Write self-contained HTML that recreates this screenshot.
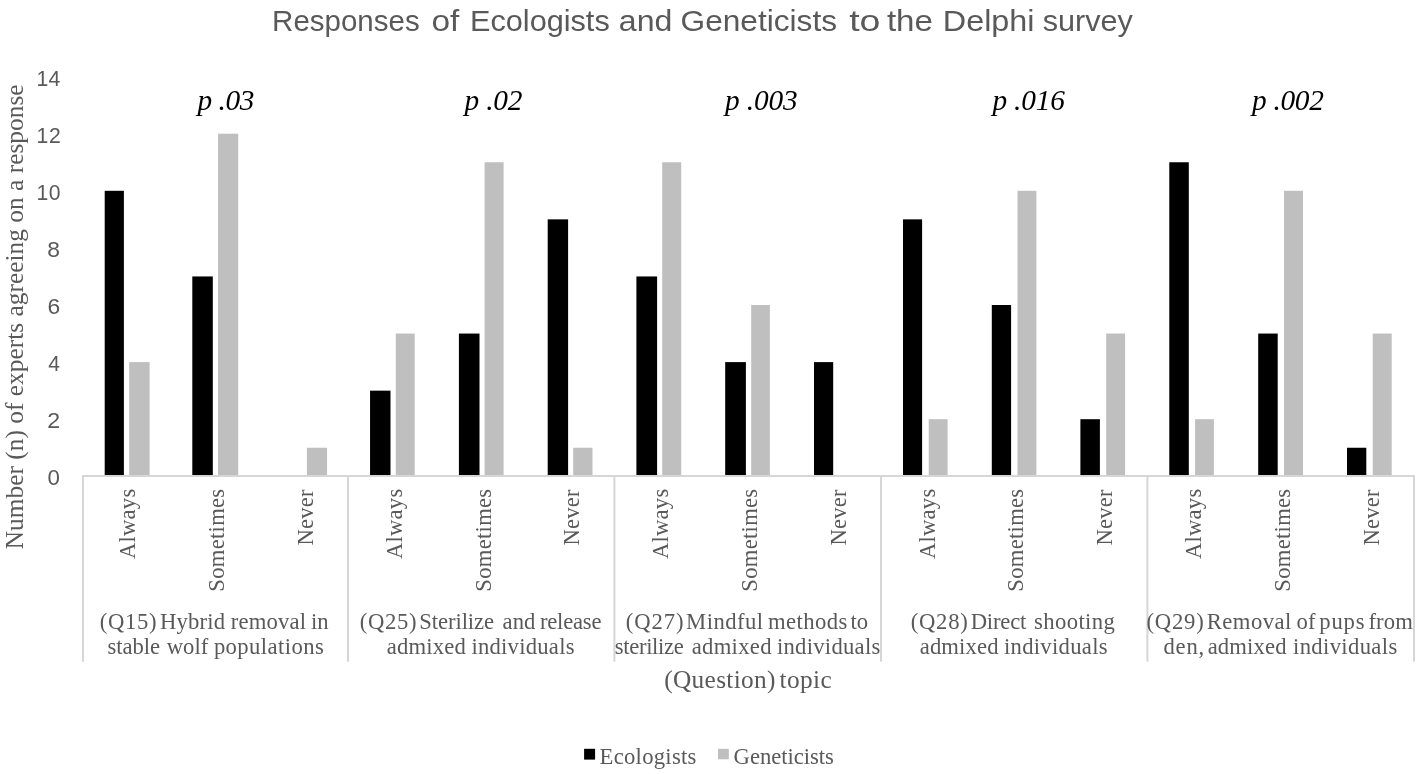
<!DOCTYPE html>
<html lang="en">
<head>
<meta charset="utf-8">
<title>Responses of Ecologists and Geneticists to the Delphi survey</title>
<style>
html,body{margin:0;padding:0;background:#fff;}
body{width:1426px;height:774px;overflow:hidden;}
svg{display:block;}
</style>
</head>
<body>
<svg width="1426" height="774" viewBox="0 0 1426 774">
<rect id="bg" width="1426" height="774" fill="#fff"/>
<g id="bars">
<rect x="104.70" y="190.8" width="19.20" height="284.20" fill="#000"/>
<rect x="129.20" y="362.1" width="20.40" height="112.90" fill="#bfbfbf"/>
<rect x="192.30" y="276.45" width="20.50" height="198.55" fill="#000"/>
<rect x="218.05" y="133.7" width="20.15" height="341.30" fill="#bfbfbf"/>
<rect x="306.90" y="447.75" width="20.15" height="27.25" fill="#bfbfbf"/>
<rect x="370.05" y="390.65" width="20.45" height="84.35" fill="#000"/>
<rect x="395.80" y="333.55" width="18.90" height="141.45" fill="#bfbfbf"/>
<rect x="458.90" y="333.55" width="20.60" height="141.45" fill="#000"/>
<rect x="484.60" y="162.25" width="19.00" height="312.75" fill="#bfbfbf"/>
<rect x="547.70" y="219.35" width="20.40" height="255.65" fill="#000"/>
<rect x="573.20" y="447.75" width="19.30" height="27.25" fill="#bfbfbf"/>
<rect x="636.40" y="276.45" width="20.70" height="198.55" fill="#000"/>
<rect x="662.20" y="162.25" width="19.00" height="312.75" fill="#bfbfbf"/>
<rect x="725.20" y="362.1" width="20.70" height="112.90" fill="#000"/>
<rect x="751.20" y="305.0" width="18.70" height="170.00" fill="#bfbfbf"/>
<rect x="814.00" y="362.1" width="19.20" height="112.90" fill="#000"/>
<rect x="903.00" y="219.35" width="19.10" height="255.65" fill="#000"/>
<rect x="928.70" y="419.2" width="18.90" height="55.80" fill="#bfbfbf"/>
<rect x="991.80" y="305.0" width="19.30" height="170.00" fill="#000"/>
<rect x="1017.50" y="190.8" width="18.90" height="284.20" fill="#bfbfbf"/>
<rect x="1080.40" y="419.2" width="19.50" height="55.80" fill="#000"/>
<rect x="1106.20" y="333.55" width="18.90" height="141.45" fill="#bfbfbf"/>
<rect x="1169.30" y="162.25" width="19.50" height="312.75" fill="#000"/>
<rect x="1195.10" y="419.2" width="18.80" height="55.80" fill="#bfbfbf"/>
<rect x="1258.20" y="333.55" width="19.50" height="141.45" fill="#000"/>
<rect x="1284.00" y="190.8" width="19.00" height="284.20" fill="#bfbfbf"/>
<rect x="1347.00" y="447.75" width="19.30" height="27.25" fill="#000"/>
<rect x="1372.70" y="333.55" width="19.00" height="141.45" fill="#bfbfbf"/>
</g>
<g id="axes" fill="#d6d6d6">
<rect x="82.0" y="475" width="1333.0" height="2"/>
<rect x="82.0" y="476" width="2" height="185.7"/>
<rect x="347.0" y="476" width="2" height="185.7"/>
<rect x="613.4" y="476" width="2" height="185.7"/>
<rect x="880.0" y="476" width="2" height="185.7"/>
<rect x="1146.4" y="476" width="2" height="185.7"/>
<rect x="1413.0" y="476" width="2" height="185.7"/>
</g>
<g id="legendmarks"><rect x="584.1" y="748.8" width="11" height="10.8" fill="#000"/><rect x="718.0" y="748.8" width="10.8" height="10.5" fill="#bfbfbf"/></g>
<g id="texts">
<text id="t0" font-family="'Liberation Sans',sans-serif" font-size="29.6" fill="#595959" textLength="147.55" lengthAdjust="spacingAndGlyphs" xml:space="preserve" x="272.11" y="31.10">Responses</text>
<text id="t1" font-family="'Liberation Sans',sans-serif" font-size="29.6" fill="#595959" textLength="27.88" lengthAdjust="spacingAndGlyphs" xml:space="preserve" x="431.42" y="31.10">of</text>
<text id="t2" font-family="'Liberation Sans',sans-serif" font-size="29.6" fill="#595959" textLength="139.73" lengthAdjust="spacingAndGlyphs" xml:space="preserve" x="470.01" y="31.10">Ecologists</text>
<text id="t3" font-family="'Liberation Sans',sans-serif" font-size="29.6" fill="#595959" textLength="53.56" lengthAdjust="spacingAndGlyphs" xml:space="preserve" x="618.87" y="31.10">and</text>
<text id="t4" font-family="'Liberation Sans',sans-serif" font-size="29.6" fill="#595959" textLength="156.54" lengthAdjust="spacingAndGlyphs" xml:space="preserve" x="680.54" y="31.10">Geneticists</text>
<text id="t5" font-family="'Liberation Sans',sans-serif" font-size="29.6" fill="#595959" textLength="31.22" lengthAdjust="spacingAndGlyphs" xml:space="preserve" x="849.15" y="31.10">to</text>
<text id="t6" font-family="'Liberation Sans',sans-serif" font-size="29.6" fill="#595959" textLength="46.03" lengthAdjust="spacingAndGlyphs" xml:space="preserve" x="886.93" y="31.10">the</text>
<text id="t7" font-family="'Liberation Sans',sans-serif" font-size="29.6" fill="#595959" textLength="91.66" lengthAdjust="spacingAndGlyphs" xml:space="preserve" x="942.82" y="31.10">Delphi</text>
<text id="t8" font-family="'Liberation Sans',sans-serif" font-size="29.6" fill="#595959" textLength="90.25" lengthAdjust="spacingAndGlyphs" xml:space="preserve" x="1042.69" y="31.10">survey</text>
<text id="p0" font-family="'Liberation Serif',serif" font-size="29.33" fill="#000" font-style="italic" textLength="57.02" lengthAdjust="spacing" xml:space="preserve" x="197.39" y="109.90">p .03</text>
<text id="p1" font-family="'Liberation Serif',serif" font-size="29.33" fill="#000" font-style="italic" textLength="57.79" lengthAdjust="spacing" xml:space="preserve" x="464.62" y="109.90">p .02</text>
<text id="p2" font-family="'Liberation Serif',serif" font-size="29.33" fill="#000" font-style="italic" textLength="72.65" lengthAdjust="spacing" xml:space="preserve" x="725.07" y="109.90">p .003</text>
<text id="p3" font-family="'Liberation Serif',serif" font-size="29.33" fill="#000" font-style="italic" textLength="72.33" lengthAdjust="spacing" xml:space="preserve" x="992.48" y="109.90">p .016</text>
<text id="p4" font-family="'Liberation Serif',serif" font-size="29.33" fill="#000" font-style="italic" textLength="71.78" lengthAdjust="spacing" xml:space="preserve" x="1252.07" y="109.90">p .002</text>
<text id="y0" font-family="'Liberation Sans',sans-serif" font-size="21.2" fill="#595959" textLength="12.41" lengthAdjust="spacingAndGlyphs" xml:space="preserve" x="47.61" y="485.40">0</text>
<text id="y2" font-family="'Liberation Sans',sans-serif" font-size="21.2" fill="#595959" textLength="12.90" lengthAdjust="spacingAndGlyphs" xml:space="preserve" x="47.33" y="428.30">2</text>
<text id="y4" font-family="'Liberation Sans',sans-serif" font-size="21.2" fill="#595959" textLength="11.68" lengthAdjust="spacingAndGlyphs" xml:space="preserve" x="48.25" y="371.20">4</text>
<text id="y6" font-family="'Liberation Sans',sans-serif" font-size="21.2" fill="#595959" textLength="12.68" lengthAdjust="spacingAndGlyphs" xml:space="preserve" x="47.59" y="314.10">6</text>
<text id="y8" font-family="'Liberation Sans',sans-serif" font-size="21.2" fill="#595959" textLength="12.74" lengthAdjust="spacingAndGlyphs" xml:space="preserve" x="47.28" y="257.00">8</text>
<text id="y10" font-family="'Liberation Sans',sans-serif" font-size="21.2" fill="#595959" textLength="23.92" lengthAdjust="spacing" xml:space="preserve" x="36.54" y="199.90">10</text>
<text id="y12" font-family="'Liberation Sans',sans-serif" font-size="21.2" fill="#595959" textLength="24.19" lengthAdjust="spacing" xml:space="preserve" x="36.54" y="142.80">12</text>
<text id="y14" font-family="'Liberation Sans',sans-serif" font-size="21.2" fill="#595959" textLength="23.74" lengthAdjust="spacing" xml:space="preserve" x="36.54" y="85.70">14</text>
<text id="c0" font-family="'Liberation Serif',serif" font-size="22.67" fill="#595959" textLength="70.36" lengthAdjust="spacing" xml:space="preserve" transform="translate(135.30 559.11) rotate(-90)">Always</text>
<text id="c1" font-family="'Liberation Serif',serif" font-size="22.67" fill="#595959" textLength="102.86" lengthAdjust="spacing" xml:space="preserve" transform="translate(224.11 591.67) rotate(-90)">Sometimes</text>
<text id="c2" font-family="'Liberation Serif',serif" font-size="22.67" fill="#595959" textLength="56.05" lengthAdjust="spacing" xml:space="preserve" transform="translate(312.92 545.46) rotate(-90)">Never</text>
<text id="c3" font-family="'Liberation Serif',serif" font-size="22.67" fill="#595959" textLength="70.36" lengthAdjust="spacing" xml:space="preserve" transform="translate(401.73 559.11) rotate(-90)">Always</text>
<text id="c4" font-family="'Liberation Serif',serif" font-size="22.67" fill="#595959" textLength="102.86" lengthAdjust="spacing" xml:space="preserve" transform="translate(490.54 591.67) rotate(-90)">Sometimes</text>
<text id="c5" font-family="'Liberation Serif',serif" font-size="22.67" fill="#595959" textLength="56.05" lengthAdjust="spacing" xml:space="preserve" transform="translate(579.35 545.46) rotate(-90)">Never</text>
<text id="c6" font-family="'Liberation Serif',serif" font-size="22.67" fill="#595959" textLength="70.36" lengthAdjust="spacing" xml:space="preserve" transform="translate(668.16 559.11) rotate(-90)">Always</text>
<text id="c7" font-family="'Liberation Serif',serif" font-size="22.67" fill="#595959" textLength="102.86" lengthAdjust="spacing" xml:space="preserve" transform="translate(756.97 591.67) rotate(-90)">Sometimes</text>
<text id="c8" font-family="'Liberation Serif',serif" font-size="22.67" fill="#595959" textLength="56.05" lengthAdjust="spacing" xml:space="preserve" transform="translate(845.78 545.46) rotate(-90)">Never</text>
<text id="c9" font-family="'Liberation Serif',serif" font-size="22.67" fill="#595959" textLength="70.36" lengthAdjust="spacing" xml:space="preserve" transform="translate(934.59 559.11) rotate(-90)">Always</text>
<text id="c10" font-family="'Liberation Serif',serif" font-size="22.67" fill="#595959" textLength="102.86" lengthAdjust="spacing" xml:space="preserve" transform="translate(1023.40 591.67) rotate(-90)">Sometimes</text>
<text id="c11" font-family="'Liberation Serif',serif" font-size="22.67" fill="#595959" textLength="56.05" lengthAdjust="spacing" xml:space="preserve" transform="translate(1112.21 545.46) rotate(-90)">Never</text>
<text id="c12" font-family="'Liberation Serif',serif" font-size="22.67" fill="#595959" textLength="70.36" lengthAdjust="spacing" xml:space="preserve" transform="translate(1201.02 559.11) rotate(-90)">Always</text>
<text id="c13" font-family="'Liberation Serif',serif" font-size="22.67" fill="#595959" textLength="102.86" lengthAdjust="spacing" xml:space="preserve" transform="translate(1289.83 591.67) rotate(-90)">Sometimes</text>
<text id="c14" font-family="'Liberation Serif',serif" font-size="22.67" fill="#595959" textLength="56.05" lengthAdjust="spacing" xml:space="preserve" transform="translate(1378.64 545.46) rotate(-90)">Never</text>
<text id="g0_0_0" font-family="'Liberation Serif',serif" font-size="22.67" fill="#595959" textLength="56.88" lengthAdjust="spacing" xml:space="preserve" x="99.75" y="628.50">(Q15)</text>
<text id="g0_0_1" font-family="'Liberation Serif',serif" font-size="22.67" fill="#595959" textLength="65.19" lengthAdjust="spacing" xml:space="preserve" x="159.90" y="628.50">Hybrid</text>
<text id="g0_0_2" font-family="'Liberation Serif',serif" font-size="22.67" fill="#595959" textLength="75.24" lengthAdjust="spacing" xml:space="preserve" x="230.75" y="628.50">removal</text>
<text id="g0_0_3" font-family="'Liberation Serif',serif" font-size="22.67" fill="#595959" xml:space="preserve" x="311.09" y="628.50">in</text>
<text id="g0_1_0" font-family="'Liberation Serif',serif" font-size="22.67" fill="#595959" textLength="52.67" lengthAdjust="spacing" xml:space="preserve" x="107.40" y="654.40">stable</text>
<text id="g0_1_1" font-family="'Liberation Serif',serif" font-size="22.67" fill="#595959" textLength="41.57" lengthAdjust="spacing" xml:space="preserve" x="166.71" y="654.40">wolf</text>
<text id="g0_1_2" font-family="'Liberation Serif',serif" font-size="22.67" fill="#595959" textLength="109.91" lengthAdjust="spacing" xml:space="preserve" x="213.88" y="654.40">populations</text>
<text id="g1_0_0" font-family="'Liberation Serif',serif" font-size="22.67" fill="#595959" textLength="56.70" lengthAdjust="spacing" xml:space="preserve" x="359.75" y="628.50">(Q25)</text>
<text id="g1_0_1" font-family="'Liberation Serif',serif" font-size="22.67" fill="#595959" textLength="74.95" lengthAdjust="spacing" xml:space="preserve" x="419.20" y="628.50">Sterilize</text>
<text id="g1_0_2" font-family="'Liberation Serif',serif" font-size="22.67" fill="#595959" xml:space="preserve" x="502.59" y="628.50">and</text>
<text id="g1_0_3" font-family="'Liberation Serif',serif" font-size="22.67" fill="#595959" textLength="61.62" lengthAdjust="spacing" xml:space="preserve" x="539.89" y="628.50">release</text>
<text id="g1_1_0" font-family="'Liberation Serif',serif" font-size="22.67" fill="#595959" textLength="78.97" lengthAdjust="spacing" xml:space="preserve" x="386.80" y="654.40">admixed</text>
<text id="g1_1_1" font-family="'Liberation Serif',serif" font-size="22.67" fill="#595959" textLength="103.16" lengthAdjust="spacing" xml:space="preserve" x="471.39" y="654.40">individuals</text>
<text id="g2_0_0" font-family="'Liberation Serif',serif" font-size="22.67" fill="#595959" textLength="57.61" lengthAdjust="spacing" xml:space="preserve" x="625.85" y="628.50">(Q27)</text>
<text id="g2_0_1" font-family="'Liberation Serif',serif" font-size="22.67" fill="#595959" textLength="77.01" lengthAdjust="spacing" xml:space="preserve" x="686.03" y="628.50">Mindful</text>
<text id="g2_0_2" font-family="'Liberation Serif',serif" font-size="22.67" fill="#595959" textLength="79.31" lengthAdjust="spacing" xml:space="preserve" x="767.90" y="628.50">methods</text>
<text id="g2_0_3" font-family="'Liberation Serif',serif" font-size="22.67" fill="#595959" xml:space="preserve" x="850.52" y="628.50">to</text>
<text id="g2_1_0" font-family="'Liberation Serif',serif" font-size="22.67" fill="#595959" textLength="68.96" lengthAdjust="spacing" xml:space="preserve" x="614.83" y="654.40">sterilize</text>
<text id="g2_1_1" font-family="'Liberation Serif',serif" font-size="22.67" fill="#595959" textLength="79.75" lengthAdjust="spacing" xml:space="preserve" x="691.74" y="654.40">admixed</text>
<text id="g2_1_2" font-family="'Liberation Serif',serif" font-size="22.67" fill="#595959" textLength="103.46" lengthAdjust="spacing" xml:space="preserve" x="776.88" y="654.40">individuals</text>
<text id="g3_0_0" font-family="'Liberation Serif',serif" font-size="22.67" fill="#595959" textLength="56.98" lengthAdjust="spacing" xml:space="preserve" x="910.75" y="628.50">(Q28)</text>
<text id="g3_0_1" font-family="'Liberation Serif',serif" font-size="22.67" fill="#595959" textLength="55.65" lengthAdjust="spacing" xml:space="preserve" x="970.65" y="628.50">Direct</text>
<text id="g3_0_2" font-family="'Liberation Serif',serif" font-size="22.67" fill="#595959" textLength="80.80" lengthAdjust="spacing" xml:space="preserve" x="1034.00" y="628.50">shooting</text>
<text id="g3_1_0" font-family="'Liberation Serif',serif" font-size="22.67" fill="#595959" textLength="78.77" lengthAdjust="spacing" xml:space="preserve" x="919.73" y="654.40">admixed</text>
<text id="g3_1_1" font-family="'Liberation Serif',serif" font-size="22.67" fill="#595959" textLength="103.58" lengthAdjust="spacing" xml:space="preserve" x="1003.98" y="654.40">individuals</text>
<text id="g4_0_0" font-family="'Liberation Serif',serif" font-size="22.67" fill="#595959" textLength="57.23" lengthAdjust="spacing" xml:space="preserve" x="1146.50" y="628.50">(Q29)</text>
<text id="g4_0_1" font-family="'Liberation Serif',serif" font-size="22.67" fill="#595959" textLength="84.52" lengthAdjust="spacing" xml:space="preserve" x="1206.76" y="628.50">Removal</text>
<text id="g4_0_2" font-family="'Liberation Serif',serif" font-size="22.67" fill="#595959" xml:space="preserve" x="1296.59" y="628.50">of</text>
<text id="g4_0_3" font-family="'Liberation Serif',serif" font-size="22.67" fill="#595959" textLength="45.33" lengthAdjust="spacing" xml:space="preserve" x="1319.27" y="628.50">pups</text>
<text id="g4_0_4" font-family="'Liberation Serif',serif" font-size="22.67" fill="#595959" textLength="44.28" lengthAdjust="spacing" xml:space="preserve" x="1368.50" y="628.50">from</text>
<text id="g4_1_0" font-family="'Liberation Serif',serif" font-size="22.67" fill="#595959" textLength="40.68" lengthAdjust="spacing" xml:space="preserve" x="1163.47" y="654.40">den,</text>
<text id="g4_1_1" font-family="'Liberation Serif',serif" font-size="22.67" fill="#595959" textLength="78.89" lengthAdjust="spacing" xml:space="preserve" x="1207.63" y="654.40">admixed</text>
<text id="g4_1_2" font-family="'Liberation Serif',serif" font-size="22.67" fill="#595959" textLength="104.26" lengthAdjust="spacing" xml:space="preserve" x="1292.98" y="654.40">individuals</text>
<text id="xt0" font-family="'Liberation Serif',serif" font-size="25.33" fill="#595959" textLength="111.31" lengthAdjust="spacing" xml:space="preserve" x="664.22" y="688.00">(Question)</text>
<text id="xt1" font-family="'Liberation Serif',serif" font-size="25.33" fill="#595959" textLength="52.31" lengthAdjust="spacing" xml:space="preserve" x="779.46" y="688.00">topic</text>
<text id="yt" font-family="'Liberation Serif',serif" font-size="25.33" fill="#595959" textLength="464.75" lengthAdjust="spacing" xml:space="preserve" transform="translate(23.30 549.19) rotate(-90)">Number (n) of experts agreeing on a response</text>
<text id="lE" font-family="'Liberation Serif',serif" font-size="22.67" fill="#595959" textLength="96.80" lengthAdjust="spacing" xml:space="preserve" x="599.58" y="764.00">Ecologists</text>
<text id="lG" font-family="'Liberation Serif',serif" font-size="22.67" fill="#595959" textLength="100.24" lengthAdjust="spacing" xml:space="preserve" x="733.59" y="764.00">Geneticists</text>
</g>
</svg>
</body>
</html>
